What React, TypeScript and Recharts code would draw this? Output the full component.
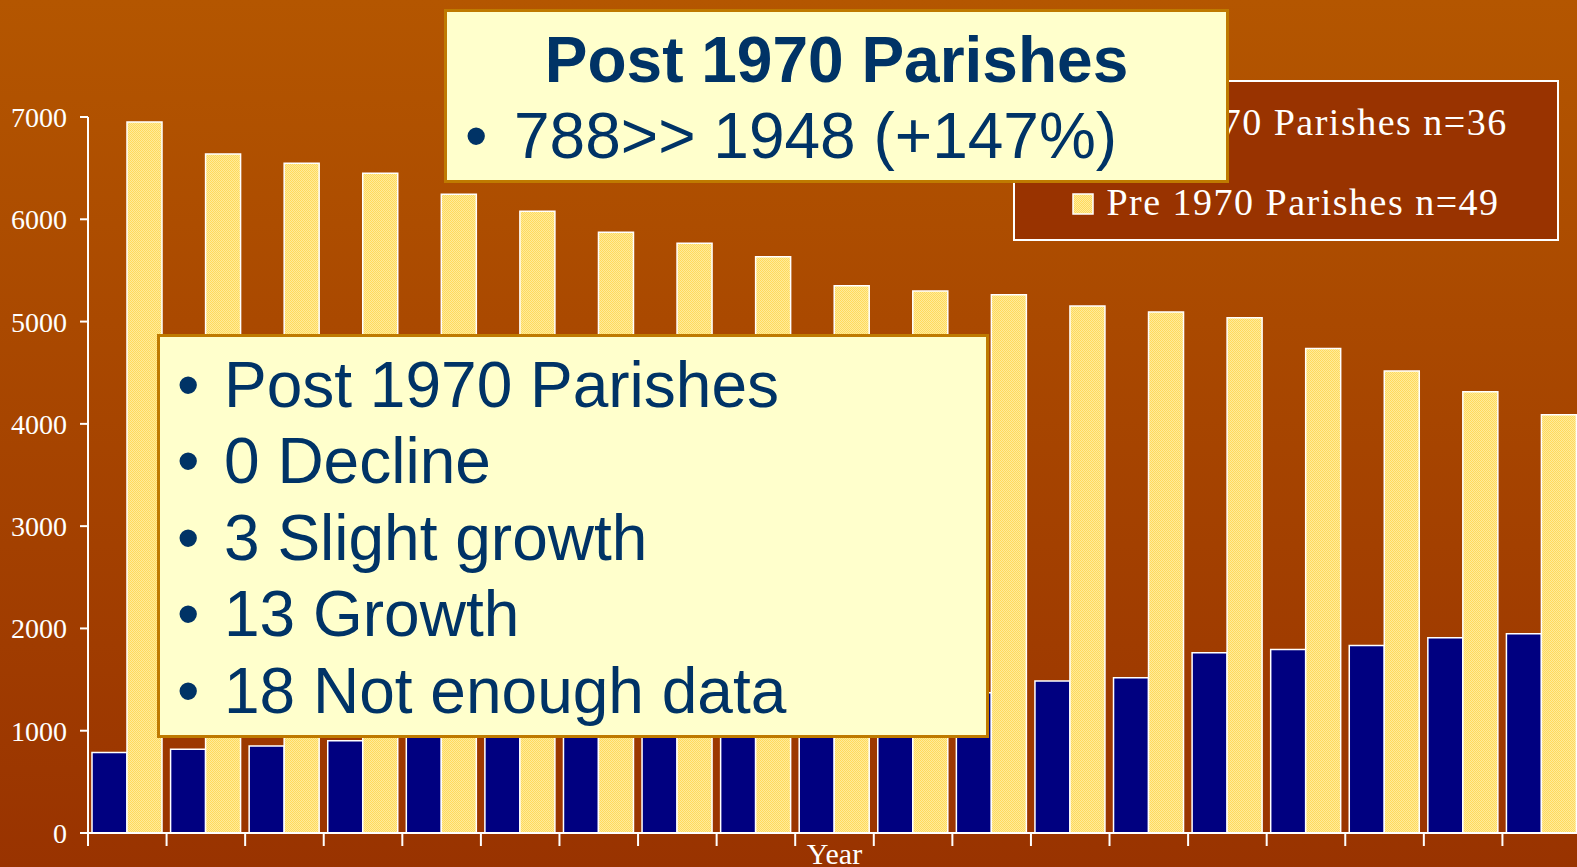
import React from 'react';
import { BarChart, Bar, XAxis, YAxis, Legend } from 'recharts';

const years = ['1', '2', '3', '4', '5', '6', '7', '8', '9', '10', '11', '12', '13', '14', '15', '16', '17', '18', '19'];
const post1970 = [788, 818, 850, 902, 960, 1000, 1060, 1110, 1170, 1230, 1300, 1371, 1486, 1518, 1762, 1795, 1834, 1909, 1948];
const pre1970 = [6950, 6638, 6547, 6449, 6244, 6078, 5873, 5765, 5634, 5351, 5299, 5263, 5152, 5093, 5038, 4737, 4517, 4314, 4089];
const yTicks = [0, 1000, 2000, 3000, 4000, 5000, 6000, 7000];
const seriesNames = ['Post 1970 Parishes n=36', 'Pre 1970 Parishes n=49'];
const titleText = 'Post 1970 Parishes';
const summaryText = '788>> 1948 (+147%)';
const bulletLines = ['Post 1970 Parishes', '0 Decline', '3 Slight growth', '13 Growth', '18 Not enough data'];

const data = years.map((y, i) => ({ year: y, post: post1970[i], pre: pre1970[i] }));

const CHART_W = 1590;
const CHART_H = 867;
const MARGIN = { top: 117, right: 9, bottom: 0, left: 0 };
const Y_W = 88;
const X_H = 34;
const PLOT_W = CHART_W - MARGIN.left - MARGIN.right - Y_W;
const BAND = PLOT_W / years.length;
const AXIS_Y = CHART_H - MARGIN.bottom - X_H;

const NAVY = '#000080';
const TEXT_BLUE = '#003366';
const SANS = '"Liberation Sans", Arial, sans-serif';
const SERIF = '"Liberation Serif", "Times New Roman", serif';

const BoundaryTick = (props: any) => {
  const { x } = props;
  const bx = x - BAND / 2;
  return <line x1={bx} x2={bx} y1={AXIS_Y} y2={AXIS_Y + 13} stroke="#fff" strokeWidth={2} />;
};

const LegendBox = (props: any) => {
  const payload = props && props.payload && props.payload.length ? props.payload : null;
  const items = payload
    ? payload.map((p: any) => ({ name: p.value, color: p.color }))
    : [
        { name: seriesNames[0], color: NAVY },
        { name: seriesNames[1], color: 'url(#yellowDots)' },
      ];
  const tops = [20, 100];
  return (
    <div
      style={{
        boxSizing: 'border-box',
        width: 546,
        height: 161,
        border: '2px solid #fff',
        background: '#993300',
        position: 'relative',
      }}
    >
      {items.map((it: any, i: number) => (
        <div
          key={i}
          style={{
            position: 'absolute',
            left: 0,
            width: '100%',
            top: tops[i],
            textAlign: 'center',
            fontFamily: SERIF,
            fontSize: 38,
            lineHeight: '40px',
            color: '#fff',
            letterSpacing: 1.5,
            whiteSpace: 'nowrap',
          }}
        >
          <svg width={22} height={22} style={{ verticalAlign: 'baseline', marginRight: 12 }}>
            <rect x={1} y={1} width={20} height={20} fill={it.color} stroke="#fff" strokeWidth={1.5} />
          </svg>
          {it.name}
        </div>
      ))}
    </div>
  );
};

const boxStyle: React.CSSProperties = {
  position: 'absolute',
  boxSizing: 'border-box',
  background: '#FFFFCC',
  border: '3px solid #BF7A00',
  zIndex: 10,
};

const textStyle = (left: number, baseline: number, bold = false): React.CSSProperties => ({
  position: 'absolute',
  left,
  top: baseline - 54.2,
  fontFamily: SANS,
  fontSize: 64,
  lineHeight: '64px',
  fontWeight: bold ? 700 : 400,
  color: TEXT_BLUE,
  whiteSpace: 'nowrap',
  zIndex: 11,
});

export default function App() {
  return (
    <div
      style={{
        position: 'fixed',
        left: 0,
        top: 0,
        width: 1577,
        height: 867,
        overflow: 'hidden',
        background: 'linear-gradient(to bottom, #B45600 0%, #993300 100%)',
      }}
    >
      <BarChart
        width={CHART_W}
        height={CHART_H}
        data={data}
        margin={MARGIN}
        barCategoryGap={4}
        barGap={0}
      >
        <defs>
          <pattern id="yellowDots" x="0" y="0" width="2" height="2" patternUnits="userSpaceOnUse">
            <rect x="0" y="0" width="2" height="2" fill="#FFEC99" />
            <rect x="0" y="0" width="1" height="1" fill="#FFD95E" />
            <rect x="1" y="1" width="1" height="1" fill="#FFD95E" />
          </pattern>
        </defs>
        <XAxis
          dataKey="year"
          height={X_H}
          interval={0}
          tickLine={false}
          tick={<BoundaryTick />}
          axisLine={{ stroke: '#fff', strokeWidth: 2 }}
          label={{
            value: 'Year',
            position: 'insideBottom',
            offset: 3,
            fill: '#fff',
            fontSize: 30,
            fontFamily: SERIF,
          }}
        />
        <YAxis
          width={Y_W}
          domain={[0, 7000]}
          ticks={yTicks}
          interval={0}
          tickSize={8}
          tickMargin={13}
          axisLine={{ stroke: '#fff', strokeWidth: 2 }}
          tickLine={{ stroke: '#fff', strokeWidth: 2 }}
          tick={{ fill: '#fff', fontSize: 28, fontFamily: SERIF }}
        />
        <Legend
          layout="vertical"
          align="center"
          verticalAlign="middle"
          content={<LegendBox />}
          wrapperStyle={{ left: 1013, top: 80, width: 546, height: 161 }}
        />
        <Bar
          dataKey="post"
          name={seriesNames[0]}
          fill={NAVY}
          stroke="#fff"
          strokeWidth={1.5}
          isAnimationActive={false}
        />
        <Bar
          dataKey="pre"
          name={seriesNames[1]}
          fill="url(#yellowDots)"
          stroke="#fff"
          strokeWidth={1.5}
          isAnimationActive={false}
        />
      </BarChart>

      <div style={{ ...boxStyle, left: 444, top: 9, width: 785, height: 174 }} />
      <div style={{ ...textStyle(444, 82, true), width: 785, textAlign: 'center' }}>{titleText}</div>
      <div style={textStyle(465, 158)}>•</div>
      <div style={textStyle(514, 158)}>{summaryText}</div>

      <div style={{ ...boxStyle, left: 157, top: 334, width: 832, height: 404 }} />
      {bulletLines.map((line, i) => (
        <React.Fragment key={i}>
          <div style={textStyle(177, 407 + i * 76.5)}>•</div>
          <div style={textStyle(224, 407 + i * 76.5)}>{line}</div>
        </React.Fragment>
      ))}
    </div>
  );
}
